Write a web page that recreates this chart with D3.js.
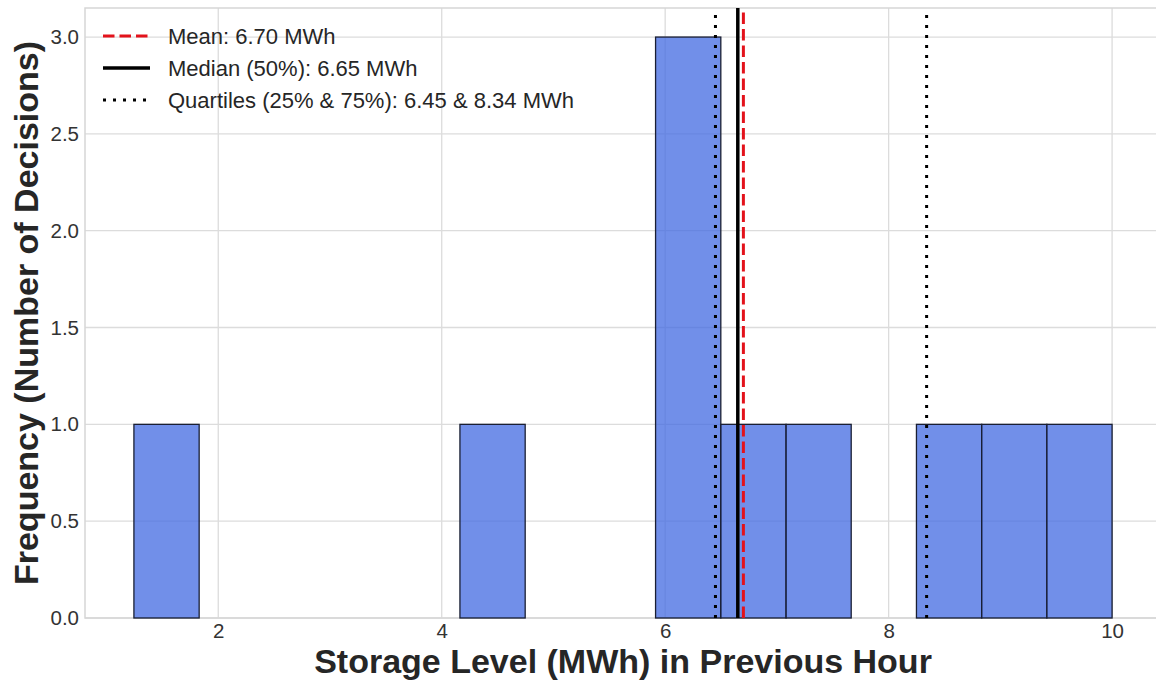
<!DOCTYPE html>
<html>
<head>
<meta charset="utf-8">
<script src="https://cdn.jsdelivr.net/npm/d3@7"></script>
<style>
  body { margin: 0; background: #fff; }
  svg { display: block; font-family: "Liberation Sans", Arial, sans-serif; }
</style>
</head>
<body>
<div id="chart"></div>
<script>
// histogram bins (lower/upper edges) and counts
const binEdges = [1.245, 1.829, 2.412, 2.996, 3.580, 4.163, 4.747, 5.331, 5.914, 6.498, 7.082, 7.665, 8.249, 8.833, 9.416, 10.0];
const counts = [1, 0, 0, 0, 0, 1, 0, 0, 3, 1, 1, 0, 1, 1, 1];

const xTicks = [2, 4, 6, 8, 10];
const yTicks = [0, 0.5, 1.0, 1.5, 2.0, 2.5, 3.0];

const meanVal = 6.70, medianVal = 6.65, q1 = 6.45, q3 = 8.34;
const legendLabels = [
    "Mean: 6.70 MWh",
    "Median (50%): 6.65 MWh",
    "Quartiles (25% & 75%): 6.45 & 8.34 MWh"
];

const width = 1156, height = 683;
const margin = {top: 8, right: -5, bottom: 65, left: 85};

const bins = counts.map((c, i) => ({x0: binEdges[i], x1: binEdges[i + 1], n: c}));

const pad = (binEdges[binEdges.length - 1] - binEdges[0]) * 0.05;
const x = d3.scaleLinear()
    .domain([binEdges[0] - pad, binEdges[binEdges.length - 1] + pad])
    .range([margin.left, width - margin.right]);
const y = d3.scaleLinear()
    .domain([0, d3.max(counts) * 1.05])
    .range([height - margin.bottom, margin.top]);

const svg = d3.select("#chart").append("svg")
    .attr("width", width)
    .attr("height", height);

const gridCol = "#dcdcdc";

// grid
let grid = svg.append("g").attr("class", "grid");
grid.selectAll("line.gx").data(xTicks).enter().append("line")
    .attr("x1", d => x(d)).attr("x2", d => x(d))
    .attr("y1", y.range()[0]).attr("y2", y.range()[1])
    .attr("stroke", gridCol).attr("stroke-width", 1.3);
grid.selectAll("line.gy").data(yTicks).enter().append("line")
    .attr("x1", x.range()[0]).attr("x2", x.range()[1])
    .attr("y1", d => y(d)).attr("y2", d => y(d))
    .attr("stroke", gridCol).attr("stroke-width", 1.3);

// frame
svg.append("rect")
    .attr("x", x.range()[0]).attr("y", y.range()[1])
    .attr("width", x.range()[1] - x.range()[0])
    .attr("height", y.range()[0] - y.range()[1])
    .attr("fill", "none").attr("stroke", "#d6d6d6").attr("stroke-width", 1.5);

// bars
svg.append("g").selectAll("rect").data(bins.filter(d => d.n > 0)).enter()
    .append("rect")
    .attr("x", d => x(d.x0))
    .attr("y", d => y(d.n))
    .attr("width", d => x(d.x1) - x(d.x0))
    .attr("height", d => y(0) - y(d.n))
    .attr("fill", "#4169e1").attr("fill-opacity", 0.75)
    .attr("stroke", "#1a1f33").attr("stroke-width", 1.3);

// stat lines
const statLines = [
    {v: q1, col: "#000", w: 3, dash: "3,7"},
    {v: q3, col: "#000", w: 3, dash: "3,7"},
    {v: medianVal, col: "#000", w: 3.5, dash: null},
    {v: meanVal, col: "#e3121b", w: 3, dash: "11.5,5"}
];
svg.append("g").selectAll("line").data(statLines).enter().append("line")
    .attr("x1", d => x(d.v)).attr("x2", d => x(d.v))
    .attr("y1", y.range()[0]).attr("y2", y.range()[1])
    .attr("stroke", d => d.col)
    .attr("stroke-width", d => d.w)
    .attr("stroke-dasharray", d => d.dash);

// axes
const xAxis = svg.append("g")
    .attr("transform", `translate(0,${y.range()[0]})`)
    .call(d3.axisBottom(x).tickValues(xTicks).tickFormat(d3.format("d")).tickSize(0).tickPadding(5));
const yAxis = svg.append("g")
    .attr("transform", `translate(${x.range()[0]},0)`)
    .call(d3.axisLeft(y).tickValues(yTicks).tickFormat(d3.format(".1f")).tickSize(0).tickPadding(6));
[xAxis, yAxis].forEach(a => {
    a.select(".domain").remove();
    a.selectAll("text").attr("font-size", 20.5).attr("fill", "#333")
        .attr("font-family", "Liberation Sans, Arial, sans-serif");
});

// axis titles
svg.append("text")
    .attr("x", (x.range()[0] + x.range()[1]) / 2)
    .attr("y", 673)
    .attr("text-anchor", "middle")
    .attr("font-size", 34).attr("font-weight", "bold").attr("fill", "#262626")
    .text("Storage Level (MWh) in Previous Hour");
svg.append("text")
    .attr("transform", `translate(38,${(y.range()[0] + y.range()[1]) / 2}) rotate(-90)`)
    .attr("text-anchor", "middle")
    .attr("font-size", 34).attr("font-weight", "bold").attr("fill", "#262626")
    .text("Frequency (Number of Decisions)");

// legend
const legendItems = [
    {col: "#e3121b", w: 3, dash: "11.5,5"},
    {col: "#000", w: 3.5, dash: null},
    {col: "#000", w: 3, dash: "3,7"}
];
let leg = svg.append("g").attr("class", "legend");
legendItems.forEach((d, i) => {
    let yy = 36 + i * 32;
    leg.append("line")
        .attr("x1", 103).attr("x2", 150)
        .attr("y1", yy).attr("y2", yy)
        .attr("stroke", d.col).attr("stroke-width", d.w)
        .attr("stroke-dasharray", d.dash);
    leg.append("text")
        .attr("x", 168).attr("y", yy)
        .attr("dy", "0.35em")
        .attr("font-size", 22).attr("fill", "#262626")
        .text(legendLabels[i]);
});
</script>
</body>
</html>
